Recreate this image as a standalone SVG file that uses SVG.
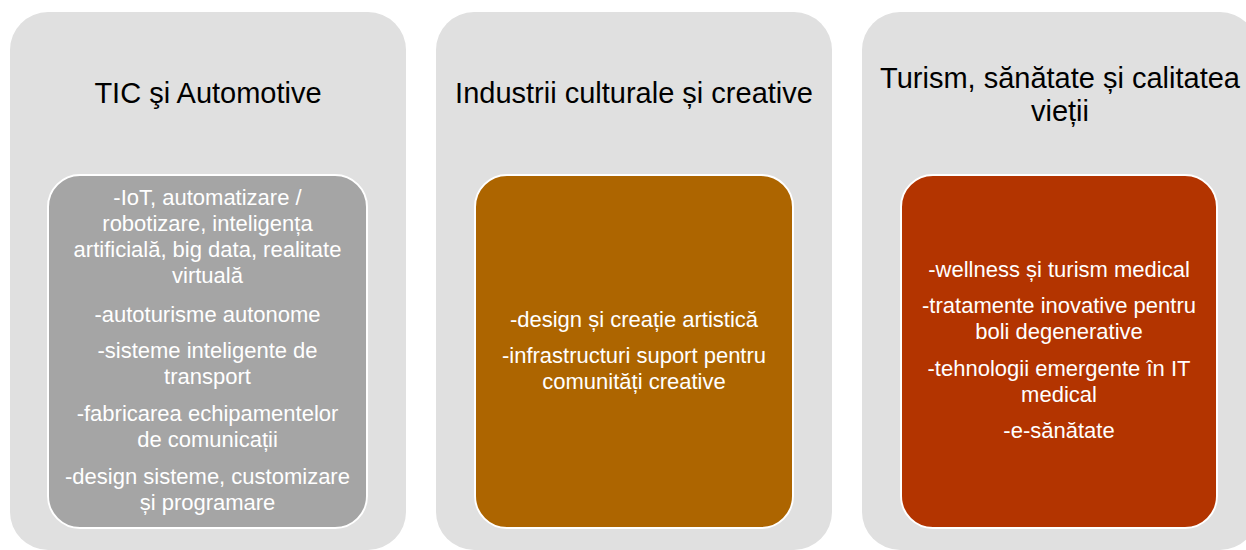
<svg xmlns="http://www.w3.org/2000/svg" width="1246" height="550" viewBox="0 0 1246 550">
<style>
.outer{fill:#e0e0e0}
.inner{stroke:#ffffff;stroke-width:2}
.title{font-family:"Liberation Sans",Arial,sans-serif;font-size:29px;fill:#000;text-anchor:middle}
.body{font-family:"Liberation Sans",Arial,sans-serif;font-size:22px;fill:#ffffff;text-anchor:middle}
</style>
<rect width="1246" height="550" fill="#ffffff"/>
<g id="col1">
<rect class="outer" x="10" y="12" width="396" height="538" rx="38" ry="38"/>
<text class="title" x="208" y="103">TIC şi Automotive</text>
<g id="col1-box">
<rect class="inner" x="48" y="175" width="319" height="353" rx="32" ry="32" fill="#a5a5a5"/>
<text class="body" x="207.5" y="205">-IoT, automatizare /</text>
<text class="body" x="207.5" y="231">robotizare, inteligența</text>
<text class="body" x="207.5" y="257">artificială, big data, realitate</text>
<text class="body" x="207.5" y="283">virtuală</text>
<text class="body" x="207.5" y="322">-autoturisme autonome</text>
<text class="body" x="207.5" y="358">-sisteme inteligente de</text>
<text class="body" x="207.5" y="384">transport</text>
<text class="body" x="207.5" y="421">-fabricarea echipamentelor</text>
<text class="body" x="207.5" y="447">de comunicații</text>
<text class="body" x="207.5" y="484">-design sisteme, customizare</text>
<text class="body" x="207.5" y="510">și programare</text>
</g>
</g>
<g id="col2">
<rect class="outer" x="436" y="12" width="396" height="538" rx="38" ry="38"/>
<text class="title" x="634" y="103">Industrii culturale și creative</text>
<g id="col2-box">
<rect class="inner" x="475" y="175" width="318" height="353" rx="32" ry="32" fill="#ad6500"/>
<text class="body" x="634" y="327">-design și creație artistică</text>
<text class="body" x="634" y="363">-infrastructuri suport pentru</text>
<text class="body" x="634" y="389">comunități creative</text>
</g>
</g>
<g id="col3">
<rect class="outer" x="862" y="12" width="396" height="538" rx="38" ry="38"/>
<text class="title" x="1060" y="88">Turism, sănătate și calitatea</text>
<text class="title" x="1060" y="121">vieții</text>
<g id="col3-box">
<rect class="inner" x="901" y="175" width="316" height="353" rx="32" ry="32" fill="#b33400"/>
<text class="body" x="1059" y="277">-wellness și turism medical</text>
<text class="body" x="1059" y="313">-tratamente inovative pentru</text>
<text class="body" x="1059" y="339">boli degenerative</text>
<text class="body" x="1059" y="376">-tehnologii emergente în IT</text>
<text class="body" x="1059" y="402">medical</text>
<text class="body" x="1059" y="438">-e-sănătate</text>
</g>
</g>
<g id="connectors"></g>
</svg>
